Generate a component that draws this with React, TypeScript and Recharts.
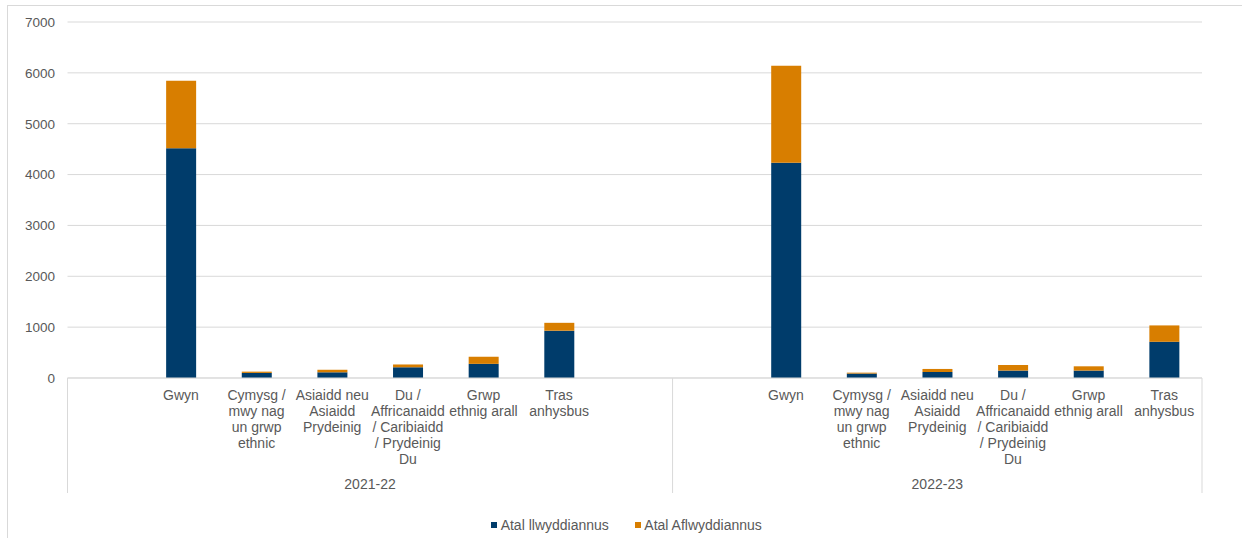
import React from "react";
import { BarChart, Bar, XAxis, YAxis, CartesianGrid, Legend } from "recharts";

// ---- data ----
const years = ["2021-22", "2022-23"];
const categoryLines: string[][] = [
  ["Gwyn"],
  ["Cymysg /", "mwy nag", "un grwp", "ethnic"],
  ["Asiaidd neu", "Asiaidd", "Prydeinig"],
  ["Du /", "Affricanaidd", "/ Caribiaidd", "/ Prydeinig", "Du"],
  ["Grwp", "ethnig arall"],
  ["Tras", "anhysbus"],
];
const successful2122 = [4520, 100, 112, 211, 278, 930];
const unsuccessful2122 = [1325, 25, 50, 55, 140, 155];
const successful2223 = [4230, 87, 118, 146, 146, 712];
const unsuccessful2223 = [1910, 18, 60, 110, 84, 322];
const seriesNames = ["Atal llwyddiannus", "Atal Aflwyddiannus"];
const yTicks = [0, 1000, 2000, 3000, 4000, 5000, 6000, 7000];

// ---- style ----
const W = 1242;
const H = 538;
const NAVY = "#003C6B";
const ORANGE = "#D87E00";
const TEXT = "#595959";
const GRID = "#d9d9d9";
const FONT = "'Liberation Sans', Arial, sans-serif";
const MARGIN = { top: 22, right: 40, bottom: 0, left: 0 };
const Y_W = 67.5;
const LEGEND_H = 26;
const X_H = 134;

type Row = {
  slot: string;
  lines: string[];
  s: number | null;
  u: number | null;
};

// Build slots: group 1 = blank + 6 + blank, group 2 = blank + 6
const groupSpecs = [
  { year: years[0], s: successful2122, u: unsuccessful2122, lead: 1, trail: 1 },
  { year: years[1], s: successful2223, u: unsuccessful2223, lead: 1, trail: 0 },
];
const data: Row[] = [];
const groups: { year: string; start: number; end: number }[] = [];
groupSpecs.forEach((g, gi) => {
  const start = data.length;
  for (let k = 0; k < g.lead; k++) data.push({ slot: `${gi}-l${k}`, lines: [], s: null, u: null });
  categoryLines.forEach((lines, i) =>
    data.push({ slot: `${gi}-${i}`, lines, s: g.s[i], u: g.u[i] })
  );
  for (let k = 0; k < g.trail; k++) data.push({ slot: `${gi}-t${k}`, lines: [], s: null, u: null });
  groups.push({ year: g.year, start, end: data.length - 1 });
});

const PLOT_W = W - MARGIN.left - MARGIN.right - Y_W;
const SLOT_W = PLOT_W / data.length;
const DIVIDER_LEN = 115;

const XTick = (props: any) => {
  const { x, y, payload } = props;
  const index: number = props.index ?? payload?.index ?? 0;
  const row = data[index];
  const els: React.ReactNode[] = [];
  groups.forEach((g, gi) => {
    if (index === g.start) {
      const lx = x - SLOT_W / 2;
      els.push(<line key={`dl${gi}`} x1={lx} x2={lx} y1={y} y2={y + DIVIDER_LEN} stroke={GRID} strokeWidth={1} />);
      const cx = x + ((g.end - g.start) / 2) * SLOT_W;
      els.push(
        <text key={`gl${gi}`} x={cx} y={y + 111} textAnchor="middle" fill={TEXT} fontSize={14} fontFamily={FONT}>
          {g.year}
        </text>
      );
    }
    if (index === g.end && gi === groups.length - 1) {
      const rx = x + SLOT_W / 2;
      els.push(<line key={`dr${gi}`} x1={rx} x2={rx} y1={y} y2={y + DIVIDER_LEN} stroke={GRID} strokeWidth={1} />);
    }
  });
  return (
    <g>
      {els}
      {row && row.lines.length > 0 && (
        <text x={x} y={y + 22} textAnchor="middle" fill={TEXT} fontSize={14} fontFamily={FONT}>
          {row.lines.map((l, i) => (
            <tspan key={i} x={x} dy={i === 0 ? 0 : 16}>
              {l}
            </tspan>
          ))}
        </text>
      )}
    </g>
  );
};

const LegendContent = () => {
  const items = [
    { name: seriesNames[0], color: NAVY },
    { name: seriesNames[1], color: ORANGE },
  ];
  return (
    <div
      style={{
        height: LEGEND_H,
        display: "flex",
        justifyContent: "center",
        alignItems: "center",
        paddingLeft: 11,
        boxSizing: "border-box",
        fontFamily: FONT,
        fontSize: 14,
        color: TEXT,
      }}
    >
      {items.map((it, i) => (
        <div key={i} style={{ display: "flex", alignItems: "center", marginLeft: i === 0 ? 0 : 26 }}>
          <span style={{ display: "inline-block", width: 6, height: 6, background: it.color, marginRight: 3.5 }} />
          <span>{it.name}</span>
        </div>
      ))}
    </div>
  );
};

export default function App() {
  return (
    <div style={{ position: "absolute", left: 0, top: 0, width: W, height: H, overflow: "hidden", background: "#fff" }}>
      <div
        style={{
          position: "absolute",
          left: 7,
          top: 5,
          width: W,
          height: H,
          border: `1px solid ${GRID}`,
          boxSizing: "border-box",
        }}
      />
      <div style={{ position: "absolute", left: 0, top: 0 }}>
        <BarChart width={W} height={H} data={data} margin={MARGIN}>
          <CartesianGrid vertical={false} stroke={GRID} strokeWidth={1} />
          <XAxis
            dataKey="slot"
            interval={0}
            height={X_H}
            tickLine={false}
            tickSize={0}
            tickMargin={0}
            axisLine={{ stroke: GRID }}
            tick={<XTick />}
          />
          <YAxis
            width={Y_W}
            domain={[0, 7000]}
            ticks={yTicks}
            axisLine={false}
            tickLine={false}
            tickSize={6}
            tickMargin={6.5}
            tick={{ fill: TEXT, fontSize: 13.5, fontFamily: FONT }}
          />
          <Legend
            verticalAlign="bottom"
            height={LEGEND_H}
            wrapperStyle={{ left: 0, width: W }}
            content={<LegendContent />}
          />
          <Bar dataKey="s" name={seriesNames[0]} stackId="a" fill={NAVY} barSize={30} isAnimationActive={false} />
          <Bar dataKey="u" name={seriesNames[1]} stackId="a" fill={ORANGE} barSize={30} isAnimationActive={false} />
        </BarChart>
      </div>
    </div>
  );
}
